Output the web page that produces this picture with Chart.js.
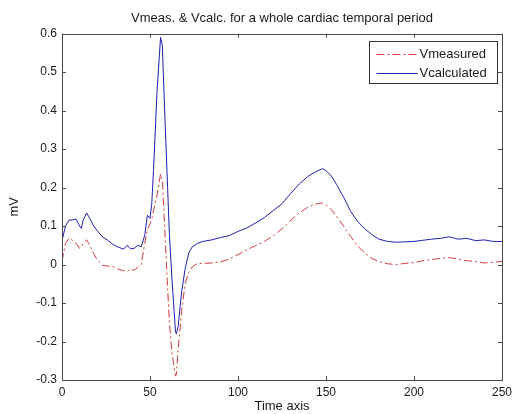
<!DOCTYPE html>
<html>
<head>
<meta charset="utf-8">
<script src="https://cdn.jsdelivr.net/npm/chart.js@4/dist/chart.umd.min.js"></script>
<style>
  body { margin: 0; background: #fff; }
  #wrap { width: 519px; height: 414px; }
</style>
</head>
<body>
<div id="wrap"><canvas id="ecg" width="519" height="414"></canvas></div>
<script>
// time samples (denser around the QRS complex)
const timeAxis = [
    0, 2, 4, 6, 8, 10, 11, 12, 14, 16, 18, 20, 23, 26, 29, 32, 35, 37, 39, 41, 43, 45,
    47, 48.5, 50, 51, 52, 54, 56, 57, 58, 60, 61, 62.5, 64.5, 65, 66, 68, 70, 72, 74,
    77, 80, 85, 90, 95, 100, 105, 110, 115, 120, 125, 130, 135, 140, 145, 148, 150,
    153, 156, 160, 164, 168, 172, 176, 180, 185, 190, 195, 200, 205, 210, 215, 220,
    225, 230, 235, 240, 245, 250,
];

const vMeasured = [
    0.008, 0.055, 0.068, 0.063, 0.055, 0.042, 0.045, 0.055, 0.064, 0.048, 0.028, 0.012,
    -0.002, -0.004, -0.006, -0.012, -0.016, -0.018, -0.012, -0.015, -0.008, 0.000,
    0.055, 0.090, 0.105, 0.118, 0.140, 0.180, 0.235, 0.220, 0.130, -0.060, -0.150,
    -0.230, -0.290, -0.285, -0.220, -0.120, -0.050, -0.020, -0.006,
    0.003, 0.003, 0.004, 0.007, 0.014, 0.026, 0.038, 0.049, 0.060, 0.075, 0.093, 0.115,
    0.135, 0.150, 0.158, 0.160, 0.155, 0.143, 0.125, 0.100, 0.073, 0.048, 0.030, 0.016,
    0.008, 0.002, 0.000, 0.003, 0.005, 0.010, 0.013, 0.016, 0.018, 0.014, 0.010, 0.008,
    0.004, 0.006, 0.008,
];

const vCalculated = [
    0.062, 0.100, 0.115, 0.116, 0.118, 0.100, 0.094, 0.115, 0.134, 0.118, 0.100, 0.088,
    0.072, 0.063, 0.052, 0.045, 0.040, 0.050, 0.041, 0.042, 0.050, 0.046,
    0.076, 0.128, 0.120, 0.158, 0.245, 0.450, 0.590, 0.570, 0.440, 0.200, 0.080,
    -0.040, -0.175, -0.180, -0.160, -0.070, -0.010, 0.030, 0.046,
    0.055, 0.060, 0.064, 0.070, 0.075, 0.086, 0.095, 0.108, 0.122, 0.140, 0.158, 0.185,
    0.210, 0.230, 0.243, 0.249, 0.244, 0.230, 0.208, 0.175, 0.138, 0.112, 0.093, 0.078,
    0.066, 0.060, 0.058, 0.059, 0.060, 0.063, 0.066, 0.068, 0.072, 0.066, 0.068, 0.062,
    0.064, 0.060, 0.060,
];

const seriesNames = ['Vmeasured', 'Vcalculated'];
const yTicks = { min: -0.3, max: 0.6, step: 0.1 };
const xTicks = { min: 0, max: 250, step: 50 };

const FONT = 'Arial, "Liberation Sans", sans-serif';
const TEXT = '#1a1a1a';
const FRAME = '#4a4a4a';

const toPoints = vals => timeAxis.map((t, i) => ({ x: t, y: vals[i] }));

// MATLAB-style box: frame plus inward ticks on all four sides
const axesBox = {
    id: 'axesBox',
    afterDraw(chart) {
        const { ctx, chartArea: a, scales: { x, y } } = chart;
        ctx.save();
        ctx.strokeStyle = FRAME;
        ctx.lineWidth = 1;
        ctx.strokeRect(Math.round(a.left) + 0.5, Math.round(a.top) + 0.5,
            Math.round(a.right - a.left), Math.round(a.bottom - a.top));
        ctx.beginPath();
        x.ticks.forEach(t => {
            const px = Math.round(x.getPixelForValue(t.value)) + 0.5;
            ctx.moveTo(px, a.bottom); ctx.lineTo(px, a.bottom - 4);
            ctx.moveTo(px, a.top); ctx.lineTo(px, a.top + 4);
        });
        y.ticks.forEach(t => {
            const py = Math.round(y.getPixelForValue(t.value)) + 0.5;
            ctx.moveTo(a.left, py); ctx.lineTo(a.left + 4, py);
            ctx.moveTo(a.right, py); ctx.lineTo(a.right - 4, py);
        });
        ctx.stroke();
        ctx.restore();
    },
};

// boxed legend in the upper right corner of the axes
const boxLegend = {
    id: 'boxLegend',
    afterDraw(chart) {
        const { ctx, chartArea: a } = chart;
        const w = 128, h = 42;
        const bx = Math.round(a.right) - 5 - w + 0.5;
        const by = Math.round(a.top) + 7 + 0.5;
        ctx.save();
        ctx.fillStyle = '#fff';
        ctx.fillRect(bx, by, w, h);
        ctx.strokeStyle = '#333';
        ctx.lineWidth = 1;
        ctx.strokeRect(bx, by, w, h);
        ctx.font = '13px ' + FONT;
        ctx.textBaseline = 'middle';
        chart.data.datasets.forEach((ds, i) => {
            const ly = Math.round(by + 12.5 + i * 19) + 0.5;
            ctx.strokeStyle = ds.borderColor;
            ctx.setLineDash(ds.borderDash || []);
            ctx.beginPath();
            ctx.moveTo(bx + 7, ly);
            ctx.lineTo(bx + 48, ly);
            ctx.stroke();
            ctx.setLineDash([]);
            ctx.fillStyle = TEXT;
            ctx.fillText(ds.label, bx + 50, ly);
        });
        ctx.restore();
    },
};

new Chart(document.getElementById('ecg'), {
    type: 'line',
    data: {
        datasets: [
            {
                label: seriesNames[0],
                data: toPoints(vMeasured),
                borderColor: '#d83a3a',
                borderWidth: 1,
                borderDash: [8, 3, 2, 3],
                pointRadius: 0,
                tension: 0,
                fill: false,
            },
            {
                label: seriesNames[1],
                data: toPoints(vCalculated),
                borderColor: '#1f1fb0',
                borderWidth: 1,
                pointRadius: 0,
                tension: 0,
                fill: false,
            },
        ],
    },
    options: {
        responsive: false,
        animation: false,
        layout: { padding: { left: 0, right: 17, top: 0, bottom: 0 } },
        scales: {
            x: {
                type: 'linear',
                min: xTicks.min,
                max: xTicks.max,
                afterFit: s => { s.height = 34; },
                grid: { display: false, drawTicks: false },
                border: { display: false },
                ticks: { stepSize: xTicks.step, padding: 5, color: TEXT, font: { family: FONT, size: 12 } },
                title: { display: true, text: 'Time axis', color: TEXT, padding: { top: 0, bottom: 0 }, font: { family: FONT, size: 13 } },
            },
            y: {
                min: yTicks.min,
                max: yTicks.max,
                afterFit: s => { s.width = 62; },
                grid: { display: false, drawTicks: false },
                border: { display: false },
                ticks: { stepSize: yTicks.step, padding: 5, color: TEXT, font: { family: FONT, size: 12 } },
                title: { display: true, text: 'mV', color: TEXT, padding: { top: 7, bottom: 0 }, font: { family: FONT, size: 13 } },
            },
        },
        plugins: {
            legend: { display: false },
            tooltip: { enabled: false },
            title: {
                display: true,
                fullSize: false,
                text: 'Vmeas. & Vcalc. for a whole cardiac temporal period',
                color: TEXT,
                font: { family: FONT, size: 13, weight: 'normal' },
                padding: { top: 11, bottom: 7 },
            },
        },
    },
    plugins: [axesBox, boxLegend],
});
</script>
</body>
</html>
